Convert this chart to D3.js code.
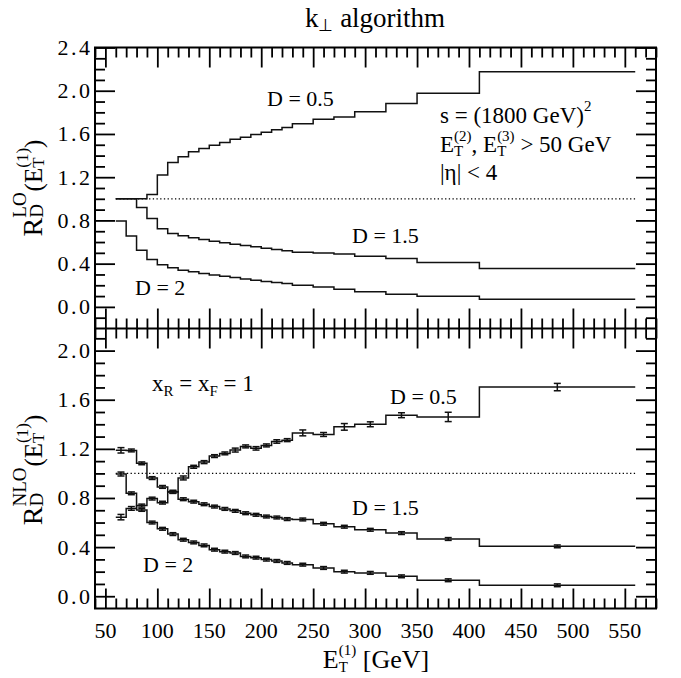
<!DOCTYPE html>
<html>
<head>
<meta charset="utf-8">
<script src="https://cdn.jsdelivr.net/npm/d3@7"></script>
<style>
  body { margin: 0; background: #fff; }
  svg text { font-family: "Liberation Serif", "Times New Roman", Times, serif; fill: #000; }
</style>
</head>
<body>
<div id="vis"></div>
<script>
// bin edges, E_T^(1) in GeV
const edges = [60, 70, 80, 90, 100, 110, 120, 130, 140, 150, 160, 170, 180, 190, 200,
  210, 220, 230, 250, 270, 290, 320, 350, 410, 560];

// LO ratios (top panel)
const loD05 = [1.0, 1.0, 1.0, 1.04, 1.22, 1.337, 1.389, 1.435, 1.465, 1.495, 1.522, 1.55,
  1.57, 1.594, 1.615, 1.638, 1.66, 1.695, 1.735, 1.757, 1.805, 1.883, 1.976, 2.176];
const loD15 = [1.0, 1.0, 0.92, 0.818, 0.724, 0.68, 0.658, 0.639, 0.624, 0.608, 0.593, 0.58,
  0.568, 0.556, 0.543, 0.531, 0.519, 0.506, 0.498, 0.49, 0.468, 0.448, 0.41, 0.355];
const loD2 = [0.795, 0.655, 0.525, 0.439, 0.389, 0.361, 0.34, 0.324, 0.309, 0.296, 0.284, 0.272,
  0.259, 0.247, 0.235, 0.226, 0.217, 0.201, 0.185, 0.164, 0.139, 0.118, 0.099, 0.071];

// NLO ratios and errors (bottom panel)
const nloD05 = [1.188, 1.187, 1.082, 0.962, 0.89, 0.849, 0.963, 1.054, 1.092, 1.141, 1.163, 1.19,
  1.22, 1.204, 1.228, 1.26, 1.271, 1.33, 1.317, 1.379, 1.40, 1.474, 1.46, 1.703];
const nloD05err = [0.022, 0.011, 0.006, 0.006, 0.006, 0.008, 0.016, 0.012, 0.012, 0.01, 0.01, 0.016,
  0.012, 0.014, 0.012, 0.014, 0.012, 0.024, 0.016, 0.027, 0.02, 0.02, 0.038, 0.03];
const nloD15 = [0.644, 0.715, 0.738, 0.795, 0.762, 0.85, 0.79, 0.77, 0.749, 0.73, 0.711, 0.695,
  0.676, 0.663, 0.649, 0.641, 0.628, 0.625, 0.59, 0.566, 0.541, 0.514, 0.466, 0.406];
const nloD15err = [0.022, 0.015, 0.012, 0.01, 0.01, 0.012, 0.006, 0.006, 0.005, 0.005, 0.005, 0.005,
  0.005, 0.005, 0.005, 0.005, 0.005, 0.005, 0.005, 0.005, 0.005, 0.005, 0.005, 0.005];
const nloD2 = [0.995, 0.838, 0.703, 0.60, 0.549, 0.506, 0.46, 0.438, 0.414, 0.379, 0.363, 0.352,
  0.324, 0.314, 0.298, 0.287, 0.271, 0.257, 0.23, 0.2, 0.19, 0.162, 0.13, 0.089];
const nloD2err = [0.016, 0.008, 0.008, 0.006, 0.006, 0.005, 0.005, 0.005, 0.005, 0.005, 0.005, 0.005,
  0.005, 0.005, 0.005, 0.005, 0.005, 0.005, 0.005, 0.005, 0.005, 0.005, 0.005, 0.005];

// ticks
const xMajor = d3.range(50, 551, 50);
const xMinor = d3.range(40, 581, 10).filter(v => v % 50 !== 0);
const yMajorLO = [0, 0.4, 0.8, 1.2, 1.6, 2.0, 2.4];
const yMinorLO = d3.range(-1, 24).filter(i => i % 4 !== 0).map(i => i / 10);
const yMajorNLO = [0, 0.4, 0.8, 1.2, 1.6, 2.0];
const yMinorNLO = d3.range(1, 22).filter(i => i % 4 !== 0).map(i => i / 10);
const xLabels = xMajor.map(String);
const yLabelsLO = ["0.0", "0.4", "0.8", "1.2", "1.6", "2.0", "2.4"];
const yLabelsNLO = ["0.0", "0.4", "0.8", "1.2", "1.6", "2.0"];

const width = 681, height = 678;

const svg = d3.select('#vis')
    .append('svg')
    .attr('width', width)
    .attr('height', height);

const x = d3.scaleLinear().domain([40, 580]).range([95, 656]);
const yTop = d3.scaleLinear().domain([-0.2, 2.4]).range([328.5, 47.5]);
const yBot = d3.scaleLinear().domain([-0.1, 2.18]).range([608.5, 328.5]);

// text with sub/superscripts; o = baseline offset, stack = put over previous piece
function rich(text, items) {
    let off = 0, lastLen = 0, pend = 0;
    items.forEach(it => {
        const o = it.o || 0;
        const ts = text.append("tspan").text(it.t).attr("font-size", it.s).attr("dy", o - off);
        off = o;
        const len = ts.node().getComputedTextLength();
        let dx = pend;
        pend = 0;
        if (it.stack) { dx = -lastLen; pend = Math.max(0, lastLen - len); }
        if (it.dx) dx += it.dx;
        if (dx) ts.attr("dx", dx);
        lastLen = len;
    });
}

// numbers drawn with a wide decimal point
function num(text, str, gap) {
    [...str].forEach((ch, i) => {
        const t = text.append("tspan").text(ch);
        if (ch === "." || (i > 0 && str[i - 1] === ".")) t.attr("dx", gap);
    });
}

function ticks(g, axis, scale, vals, size) {
    g.call(axis(scale).tickValues(vals).tickSize(-size).tickFormat(""))
        .call(g => g.select(".domain").remove())
        .call(g => g.selectAll(".tick line").attr("stroke", "#000").attr("stroke-width", 1.8));
}

const xl = x.range()[0], xr = x.range()[1];

function panel(y, yMajor, yMinor, yLabels, topY, botY) {
    const g = svg.append("g");
    [[yMajor, 20], [yMinor, 10]].forEach(([vals, s]) => {
        ticks(g.append("g").attr("transform", `translate(${xl},0)`), d3.axisLeft, y, vals, s);
        ticks(g.append("g").attr("transform", `translate(${xr},0)`), d3.axisRight, y, vals, s);
    });
    [[xMajor, 20], [xMinor, 10]].forEach(([vals, s]) => {
        ticks(g.append("g").attr("transform", `translate(0,${topY})`), d3.axisTop, x, vals, s);
        ticks(g.append("g").attr("transform", `translate(0,${botY})`), d3.axisBottom, x, vals, s);
    });
    yMajor.forEach((v, i) => {
        const t = g.append("text")
            .attr("x", 90).attr("y", y(v) + 7.5)
            .attr("text-anchor", "end").attr("font-size", 22);
        num(t, yLabels[i], 2.5);
    });
    // reference line at 1
    g.append("line")
        .attr("x1", x(60)).attr("x2", x(560))
        .attr("y1", y(1)).attr("y2", y(1))
        .attr("stroke", "#000").attr("stroke-width", 1.3)
        .attr("stroke-dasharray", "1.3,2.4");
    return g;
}

const gTop = panel(yTop, yMajorLO, yMinorLO, yLabelsLO, 47.5, 328.5);
const gBot = panel(yBot, yMajorNLO, yMinorNLO, yLabelsNLO, 328.5, 608.5);

function hist(g, y, vals) {
    const pts = vals.map((v, i) => [edges[i], v]);
    pts.push([edges[edges.length - 1], vals[vals.length - 1]]);
    const line = d3.line()
        .x(d => x(d[0]))
        .y(d => y(d[1]))
        .curve(d3.curveStepAfter);
    g.append("path")
        .attr("d", line(pts))
        .attr("fill", "none")
        .attr("stroke", "#111")
        .attr("stroke-width", 1.5);
}

function errs(g, y, vals, err) {
    const d = vals.map((v, i) => ({ c: (edges[i] + edges[i + 1]) / 2, v, e: err[i] }));
    const eb = g.append("g").attr("stroke", "#111").attr("stroke-width", 1.5);
    d.forEach(p => {
        const y0 = Math.max(y(p.v - p.e), y(p.v) + 1.4);
        const y1 = Math.min(y(p.v + p.e), y(p.v) - 1.4);
        eb.append("line").attr("x1", x(p.c)).attr("x2", x(p.c)).attr("y1", y0).attr("y2", y1);
        eb.append("line").attr("x1", x(p.c) - 3.5).attr("x2", x(p.c) + 3.5).attr("y1", y0).attr("y2", y0);
        eb.append("line").attr("x1", x(p.c) - 3.5).attr("x2", x(p.c) + 3.5).attr("y1", y1).attr("y2", y1);
    });
}

[loD05, loD15, loD2].forEach(s => hist(gTop, yTop, s));
[[nloD05, nloD05err], [nloD15, nloD15err], [nloD2, nloD2err]].forEach(([s, e]) => {
    hist(gBot, yBot, s);
    errs(gBot, yBot, s, e);
});

// frame
svg.append("rect")
    .attr("x", xl).attr("y", 47.5)
    .attr("width", xr - xl).attr("height", 608.5 - 47.5)
    .attr("fill", "none").attr("stroke", "#000").attr("stroke-width", 2);
svg.append("line")
    .attr("x1", xl).attr("x2", xr).attr("y1", 328.5).attr("y2", 328.5)
    .attr("stroke", "#000").attr("stroke-width", 2);

// x tick labels
xMajor.forEach((v, i) => {
    svg.append("text")
        .attr("x", x(v)).attr("y", 638)
        .attr("text-anchor", "middle").attr("font-size", 22)
        .text(xLabels[i]);
});

// title and axis titles
rich(svg.append("text").attr("x", 375).attr("y", 26.5).attr("text-anchor", "middle"), [
    { t: "k", s: 27 }, { t: "\u22a5", s: 17, o: 4 }, { t: " algorithm", s: 27 }
]);
rich(svg.append("text").attr("x", 376).attr("y", 668).attr("text-anchor", "middle"), [
    { t: "E", s: 26 }, { t: "T", s: 15, o: 4 }, { t: "(1)", s: 15, o: -13, stack: true },
    { t: " [GeV]", s: 26 }
]);

function yTitle(cy, sup) {
    rich(svg.append("text").attr("transform", `translate(41.5,${cy}) rotate(-90)`)
        .attr("text-anchor", "middle"), [
        { t: "R", s: 28 }, { t: "D", s: 19, o: 1 }, { t: sup, s: 19, o: -16, stack: true },
        { t: "(", s: 25, dx: 1 }, { t: "E", s: 25 }, { t: "T", s: 17, o: 2 },
        { t: "(1)", s: 17, o: -14, stack: true }, { t: ")", s: 25 }
    ]);
}
yTitle(188, "LO");
yTitle(470, "NLO");

// annotations
function note(xp, yp, items) {
    rich(svg.append("text").attr("x", xp).attr("y", yp), items);
}
const F = 22, G = 23;
note(267, 106, [{ t: "D = 0.5", s: F }]);
note(352, 243, [{ t: "D = 1.5", s: F }]);
note(135, 295, [{ t: "D = 2", s: F }]);
note(440, 123, [{ t: "s = (1800 GeV)", s: G }, { t: "2", s: 15, o: -12 }]);
note(440, 152, [{ t: "E", s: G }, { t: "T", s: 15, o: 4 }, { t: "(2)", s: 15, o: -11, stack: true },
    { t: ", E", s: G }, { t: "T", s: 15, o: 4 }, { t: "(3)", s: 15, o: -11, stack: true },
    { t: " > 50 GeV", s: G }]);
note(440, 180, [{ t: "|", s: G }, { t: "\u03b7", s: G, }, { t: "| < 4", s: G }]);
note(152, 391, [{ t: "x", s: G }, { t: "R", s: 15, o: 5 }, { t: " = x", s: G }, { t: "F", s: 15, o: 5 },
    { t: " = 1", s: G }]);
note(390, 404, [{ t: "D = 0.5", s: F }]);
note(352, 515, [{ t: "D = 1.5", s: F }]);
note(143, 572, [{ t: "D = 2", s: F }]);
</script>
</body>
</html>
